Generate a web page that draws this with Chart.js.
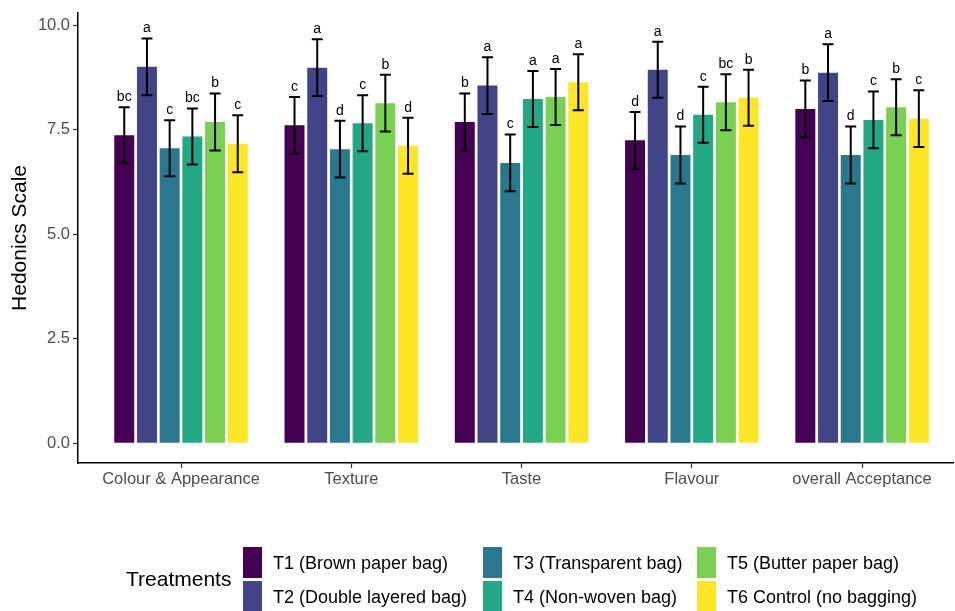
<!DOCTYPE html>
<html>
<head>
<meta charset="utf-8">
<script src="https://cdn.jsdelivr.net/npm/chart.js@4.4.1/dist/chart.umd.min.js"></script>
<style>
    body { margin: 0; background: #fff; font-family: "Liberation Sans", Arial, sans-serif; }
    #wrap { position: relative; width: 955px; height: 611px; }
    #box { position: absolute; left: 0; top: 0; width: 955px; height: 500px; }
    #legend { position: absolute; left: 0; top: 0; width: 955px; height: 611px; pointer-events: none; }
    .lg-title { position: absolute; left: 126px; top: 566px; font-size: 21px; line-height: 26px; color: #000; }
    .lg-key { position: absolute; width: 19px; height: 31px; }
    .lg-text { position: absolute; font-size: 18px; line-height: 22px; color: #000; white-space: nowrap; }
</style>
</head>
<body>
<div id="wrap">
    <div id="box"><canvas id="barChart"></canvas></div>
    <div id="legend"></div>
</div>
<script>
// Sensory attributes on the x axis
const categories = ['Colour & Appearance', 'Texture', 'Taste', 'Flavour', 'overall Acceptance'];
const treatments = ['T1 (Brown paper bag)', 'T2 (Double layered bag)', 'T3 (Transparent bag)',
                    'T4 (Non-woven bag)', 'T5 (Butter paper bag)', 'T6 Control (no bagging)'];
const colors = ['#440154', '#414487', '#2A788E', '#22A884', '#7AD151', '#FDE725'];

// Mean scores per treatment (one value per attribute)
const t1 = [7.37, 7.61, 7.69, 7.25, 8.00];
const t2 = [9.01, 8.99, 8.56, 8.94, 8.87];
const t3 = [7.06, 7.04, 6.71, 6.90, 6.90];
const t4 = [7.34, 7.66, 8.24, 7.86, 7.74];
const t5 = [7.69, 8.14, 8.29, 8.16, 8.04];
const t6 = [7.17, 7.12, 8.64, 8.27, 7.77];

// Error bar half-lengths
const e1 = [0.67, 0.68, 0.68, 0.68, 0.68];
const e2 = [0.68, 0.68, 0.68, 0.67, 0.68];
const e3 = [0.67, 0.68, 0.68, 0.68, 0.68];
const e4 = [0.67, 0.67, 0.67, 0.67, 0.68];
const e5 = [0.68, 0.68, 0.67, 0.67, 0.67];
const e6 = [0.68, 0.67, 0.67, 0.67, 0.68];

// Significance letters
const l1 = ['bc', 'c', 'b', 'd', 'b'];
const l2 = ['a', 'a', 'a', 'a', 'a'];
const l3 = ['c', 'd', 'c', 'd', 'd'];
const l4 = ['bc', 'c', 'a', 'c', 'c'];
const l5 = ['b', 'b', 'a', 'bc', 'b'];
const l6 = ['c', 'd', 'a', 'b', 'c'];

const yTicks = [0, 2.5, 5, 7.5, 10];

const means = [t1, t2, t3, t4, t5, t6];
const errs = [e1, e2, e3, e4, e5, e6];
const letters = [l1, l2, l3, l4, l5, l6];

const FONT = '"Liberation Sans", Arial, sans-serif';

// Error bars + letters drawn on top of the bars
const errorBars = {
    id: 'errorBars',
    afterDatasetsDraw(chart) {
        const ctx = chart.ctx;
        const y = chart.scales.y;
        ctx.save();
        chart.data.datasets.forEach((ds, i) => {
            chart.getDatasetMeta(i).data.forEach((bar, j) => {
                const v = ds.data[j].y;
                const e = errs[i][j];
                const top = y.getPixelForValue(v + e);
                const bot = y.getPixelForValue(v - e);
                const x = bar.x;
                ctx.strokeStyle = '#000';
                ctx.lineWidth = 2;
                ctx.beginPath();
                ctx.moveTo(x, top); ctx.lineTo(x, bot);
                ctx.moveTo(x - 5.5, top); ctx.lineTo(x + 5.5, top);
                ctx.moveTo(x - 5.5, bot); ctx.lineTo(x + 5.5, bot);
                ctx.stroke();
                ctx.fillStyle = '#000';
                ctx.font = '14px ' + FONT;
                ctx.textAlign = 'center';
                ctx.textBaseline = 'bottom';
                ctx.fillText(letters[i][j], x, top - 3);
            });
        });
        ctx.restore();
    }
};

function initializeBarChart() {
    const ctx = document.getElementById('barChart').getContext('2d');

    new Chart(ctx, {
        type: 'bar',
        data: {
            datasets: means.map((m, i) => ({
                label: treatments[i],
                data: m.map((v, j) => ({ x: j, y: v })),
                backgroundColor: colors[i],
                borderWidth: 0,
                barPercentage: 0.88,
                categoryPercentage: 0.8
            }))
        },
        options: {
            responsive: true,
            maintainAspectRatio: false,
            animation: false,
            layout: { padding: { top: 4, right: 2, left: 0, bottom: 0 } },
            scales: {
                x: {
                    type: 'linear',
                    offset: false,
                    min: -0.605,
                    max: 4.534,
                    afterBuildTicks: s => { s.ticks = categories.map((c, i) => ({ value: i })); },
                    afterFit: s => { s.height = 37; },
                    grid: { offset: false, drawOnChartArea: false, tickLength: 5, color: '#333', tickWidth: 1.2 },
                    border: { display: true, color: '#000', width: 1.5 },
                    ticks: {
                        autoSkip: false,
                        maxRotation: 0,
                        padding: 2,
                        color: '#4d4d4d',
                        font: { size: 16.5, family: FONT },
                        callback: v => categories[v]
                    }
                },
                y: {
                    min: -0.47,
                    max: 10.3,
                    afterBuildTicks: s => { s.ticks = yTicks.map(v => ({ value: v })); },
                    afterFit: s => { s.width = 78; },
                    grid: { drawOnChartArea: false, tickLength: 5, color: '#333', tickWidth: 1.2 },
                    border: { display: true, color: '#000', width: 1.5 },
                    ticks: {
                        padding: 3,
                        color: '#4d4d4d',
                        font: { size: 16.5, family: FONT },
                        callback: v => v.toFixed(1)
                    },
                    title: {
                        display: true,
                        text: 'Hedonics Scale',
                        color: '#000',
                        padding: { top: 8, bottom: 0 },
                        font: { size: 21, family: FONT }
                    }
                }
            },
            plugins: {
                legend: { display: false },
                tooltip: { enabled: false }
            }
        },
        plugins: [errorBars]
    });
}

// Legend in ggplot layout: 3 columns x 2 rows, filled column-wise
function buildLegend() {
    const box = document.getElementById('legend');
    const title = document.createElement('div');
    title.className = 'lg-title';
    title.textContent = 'Treatments';
    box.appendChild(title);

    const colX = [243, 483, 697];
    const rowY = [547, 581];
    treatments.forEach((t, i) => {
        const col = Math.floor(i / 2), row = i % 2;
        const key = document.createElement('div');
        key.className = 'lg-key';
        key.style.left = colX[col] + 'px';
        key.style.top = rowY[row] + 'px';
        key.style.background = colors[i];
        box.appendChild(key);

        const txt = document.createElement('div');
        txt.className = 'lg-text';
        txt.style.left = (colX[col] + 30) + 'px';
        txt.style.top = (rowY[row] + 5) + 'px';
        txt.textContent = t;
        box.appendChild(txt);
    });
}

document.addEventListener('DOMContentLoaded', function() {
    initializeBarChart();
    buildLegend();
});
</script>
</body>
</html>
